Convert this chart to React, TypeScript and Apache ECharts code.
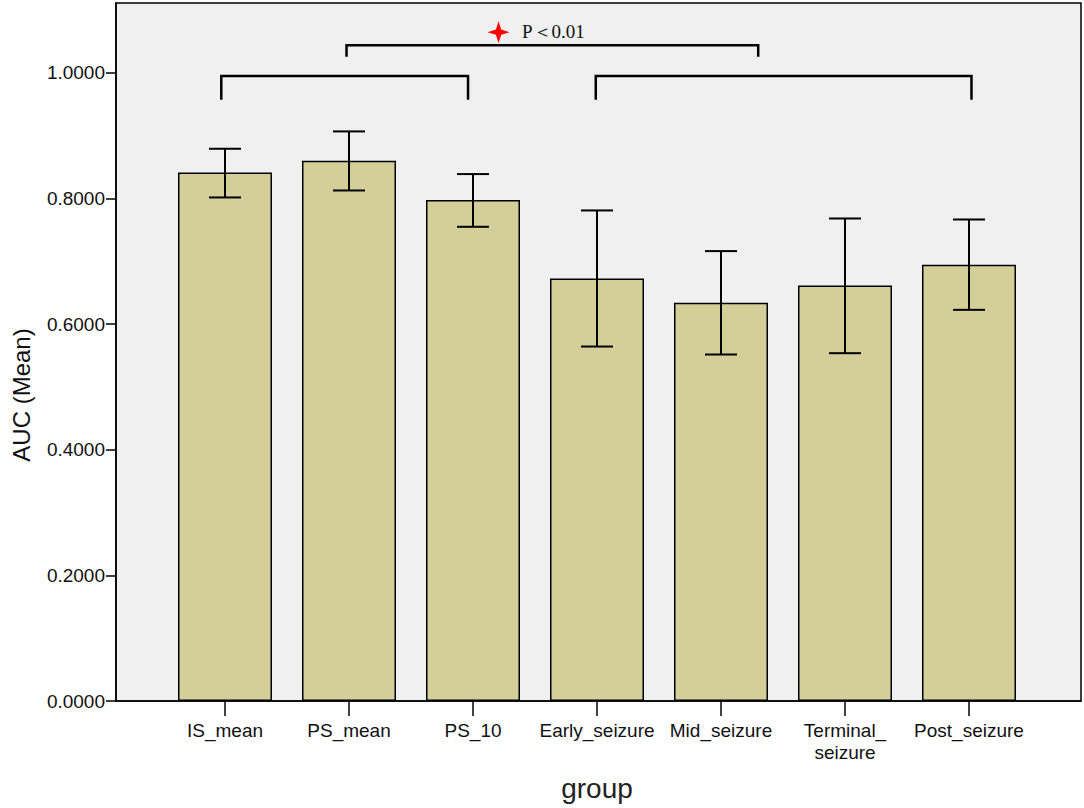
import React, { useEffect, useRef } from "react";
import * as echarts from "echarts";

const categories = ["IS_mean", "PS_mean", "PS_10", "Early_seizure", "Mid_seizure", "Terminal_\nseizure", "Post_seizure"];
const means = [0.8413, 0.8599, 0.7973, 0.6725, 0.6338, 0.6613, 0.6943];
const errLow = [0.8015, 0.8126, 0.7548, 0.5642, 0.5515, 0.5536, 0.6226];
const errHigh = [0.879, 0.9066, 0.8387, 0.7808, 0.7161, 0.768, 0.7664];
const yTicks = [0, 0.2, 0.4, 0.6, 0.8, 1.0];
const yMax = 1.111;
// [from category pos, to category pos, bar level, leg end level]
const brackets = [
  [-0.03, 1.96, 0.995, 0.957],
  [2.99, 6.02, 0.995, 0.957],
  [0.98, 4.3, 1.0438, 1.0255],
];
// [star pos, star level, text pos, text level]
const annotations = [[2.206, 1.0645, 2.395, 1.066]];
const annotationText = "P＜0.01";

const FONT = "Arial, 'Liberation Sans', sans-serif";

export default function App() {
  const ref = useRef<HTMLDivElement>(null);
  useEffect(() => {
    const chart = echarts.init(ref.current!, null, { renderer: "svg" });
    const fracX = (api: any, f: number, y: number) => {
      const c0 = api.coord([0, y]);
      const c1 = api.coord([1, y]);
      return [c0[0] + f * (c1[0] - c0[0]), c0[1]];
    };
    const option: any = {
      animation: false,
      backgroundColor: "#ffffff",
      grid: [
        { left: 116, right: 3, top: 3, bottom: 107, show: true, backgroundColor: "#f0f0f0", borderColor: "#000", borderWidth: 1.5, containLabel: false, outerBoundsMode: "none" },
        { left: 163, right: 53, top: 3, bottom: 107, containLabel: false, outerBoundsMode: "none" },
      ],
      xAxis: [
        {
          type: "value", gridIndex: 0, min: 0, max: 1,
          axisLine: { show: true, lineStyle: { color: "#000", width: 1.5 } },
          axisTick: { show: false }, axisLabel: { show: false }, splitLine: { show: false },
        },
        {
          type: "category", gridIndex: 1, data: categories, boundaryGap: true,
          axisLine: { show: false },
          axisTick: { show: true, alignWithLabel: true, length: 15, lineStyle: { color: "#000", width: 1.5 } },
          axisLabel: { fontSize: 19, fontFamily: FONT, color: "#111", margin: 18, lineHeight: 22, interval: 0 },
          name: "group", nameLocation: "middle", nameGap: 73,
          nameTextStyle: { fontSize: 28, fontFamily: FONT, color: "#222" },
          splitLine: { show: false },
        },
      ],
      yAxis: [
        {
          type: "value", gridIndex: 0, min: 0, max: yMax,
          axisLine: { show: true, lineStyle: { color: "#000", width: 1.5 } },
          axisTick: { show: true, length: 10, customValues: yTicks, lineStyle: { color: "#000", width: 1.5 } },
          axisLabel: {
            customValues: yTicks, fontSize: 19, fontFamily: FONT, color: "#111", margin: 11,
            formatter: (v: number) => v.toFixed(4),
          },
          splitLine: { show: false },
        },
        { type: "value", gridIndex: 1, min: 0, max: yMax, show: false },
      ],
      graphic: [
        {
          type: "text", x: 21, y: 395, rotation: Math.PI / 2,
          style: { text: "AUC (Mean)", fontSize: 24, fontFamily: FONT, fill: "#111", align: "center", verticalAlign: "middle" },
        },
      ],
      series: [
        {
          type: "bar", xAxisIndex: 1, yAxisIndex: 1, data: means, barWidth: 94,
          itemStyle: { color: "#d4cf99", borderColor: "#000", borderWidth: 1.5 },
        },
        {
          type: "custom", xAxisIndex: 1, yAxisIndex: 1,
          data: categories.map((_, i) => [i, errLow[i], errHigh[i]]),
          encode: { x: 0, y: [1, 2] },
          renderItem: (params: any, api: any) => {
            const i = api.value(0);
            const lo = api.coord([i, api.value(1)]);
            const hi = api.coord([i, api.value(2)]);
            const h = 16;
            const st = { stroke: "#000", lineWidth: 2 };
            return {
              type: "group",
              children: [
                { type: "line", shape: { x1: lo[0], y1: lo[1], x2: hi[0], y2: hi[1] }, style: st },
                { type: "line", shape: { x1: hi[0] - h, y1: hi[1], x2: hi[0] + h, y2: hi[1] }, style: st },
                { type: "line", shape: { x1: lo[0] - h, y1: lo[1], x2: lo[0] + h, y2: lo[1] }, style: st },
              ],
            };
          },
          z: 5,
        },
        {
          type: "custom", xAxisIndex: 1, yAxisIndex: 1,
          data: brackets,
          encode: { x: [0, 1], y: [2, 3] },
          clip: false,
          renderItem: (params: any, api: any) => {
            const a = fracX(api, api.value(0), api.value(2));
            const b = fracX(api, api.value(1), api.value(2));
            const legY = api.coord([0, api.value(3)])[1];
            return {
              type: "polyline",
              shape: { points: [[a[0], legY], [a[0], a[1]], [b[0], b[1]], [b[0], legY]] },
              style: { stroke: "#000", lineWidth: 2.5, fill: null },
            };
          },
          z: 5,
        },
        {
          type: "custom", xAxisIndex: 1, yAxisIndex: 1,
          data: annotations,
          encode: { x: [0, 2], y: [1, 3] },
          clip: false,
          renderItem: (params: any, api: any) => {
            const s = fracX(api, api.value(0), api.value(1));
            const t = fracX(api, api.value(2), api.value(3));
            const R = 11, r = 2.6;
            const pts = [
              [s[0], s[1] - R], [s[0] + r, s[1] - r], [s[0] + R, s[1]], [s[0] + r, s[1] + r],
              [s[0], s[1] + R], [s[0] - r, s[1] + r], [s[0] - R, s[1]], [s[0] - r, s[1] - r],
            ];
            return {
              type: "group",
              children: [
                { type: "polygon", shape: { points: pts }, style: { fill: "#ff0000" } },
                {
                  type: "text",
                  style: {
                    text: annotationText, x: t[0], y: t[1], fontSize: 19,
                    fontFamily: "'Liberation Serif', 'Times New Roman', serif", fill: "#111",
                    align: "left", verticalAlign: "middle",
                  },
                },
              ],
            };
          },
          z: 6,
        },
      ],
    };
    chart.setOption(option);
    return () => chart.dispose();
  }, []);
  return <div ref={ref} style={{ position: "fixed", left: 0, top: 0, width: 1084, height: 808 }} />;
}
